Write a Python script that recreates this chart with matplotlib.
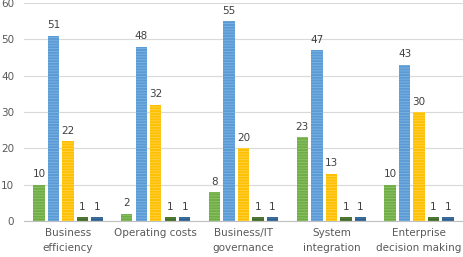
import numpy as np
import matplotlib.pyplot as plt

categories = ["Business\nefficiency", "Operating costs", "Business/IT\ngovernance",
              "System\nintegration", "Enterprise\ndecision making"]
series_1 = [10, 2, 8, 23, 10]
series_2 = [51, 48, 55, 47, 43]
series_3 = [22, 32, 20, 13, 30]
series_4 = [1, 1, 1, 1, 1]
series_5 = [1, 1, 1, 1, 1]

all_series = [series_1, series_2, series_3, series_4, series_5]
colors = ["#70AD47", "#5B9BD5", "#FFC000", "#43682B", "#2E5F8C"]
hatch_colors = ["#8FC46A", "#7FB3E3", "#FFD34D", "#5E8A40", "#4A7BAA"]

plt.rcParams['hatch.linewidth'] = 0.6
fig = plt.figure(figsize=(4.63, 2.57), dpi=100)
ax = fig.add_axes([0.052, 0.14, 0.948, 0.848])

x = np.arange(len(categories))
width = 0.13
step = 0.165
for i, vals in enumerate(all_series):
    pos = x + (i - 2) * step
    bars = ax.bar(pos, vals, width, color=colors[i], edgecolor=hatch_colors[i],
                  hatch="------", linewidth=0, zorder=3)
    for b, v in zip(bars, vals):
        ax.text(b.get_x() + b.get_width() / 2, v + 1.5, str(v), ha="center",
                va="bottom", fontsize=7.5, color="#404040")

ax.set_xlim(-0.5, len(categories) - 0.5)
ax.set_ylim(0, 60)
ax.set_yticks(range(0, 61, 10))
ax.set_xticks(x)
ax.set_xticklabels(categories, fontsize=7.5, color="#595959", linespacing=1.6)
ax.tick_params(axis="y", labelsize=7.5, labelcolor="#595959", length=0, pad=7)
ax.tick_params(axis="x", length=0, pad=5)
ax.grid(axis="y", color="#D9D9D9", linewidth=0.8, zorder=0)
for s in ["top", "right", "left"]:
    ax.spines[s].set_visible(False)
ax.spines["bottom"].set_color("#BFBFBF")

plt.savefig("out.png", dpi=100)
